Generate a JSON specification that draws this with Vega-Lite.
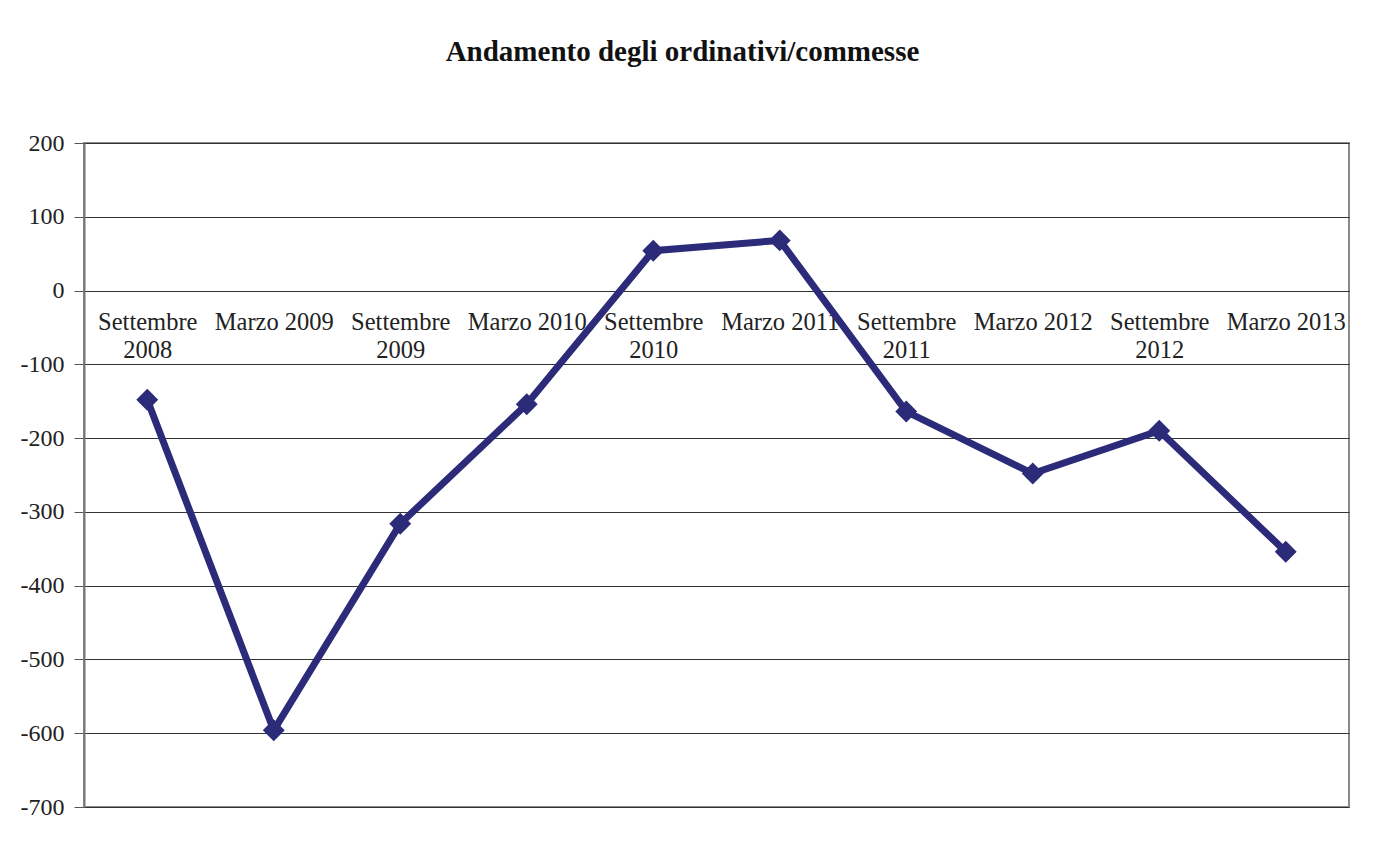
{
  "$schema": "https://vega.github.io/schema/vega-lite/v6.json",
  "autosize": "none",
  "width": 1265,
  "height": 664,
  "padding": {"left": 84, "top": 143, "right": 25, "bottom": 35},
  "background": "white",
  "title": {
    "text": "Andamento degli ordinativi/commesse",
    "font": "Liberation Serif",
    "fontSize": 29,
    "fontWeight": "bold",
    "color": "#111111",
    "anchor": "middle",
    "dx": -34,
    "offset": 64
  },
  "config": {
    "view": {"stroke": "#8a8a8a", "strokeWidth": 2},
    "font": "Liberation Serif"
  },
  "data": {
    "values": [
      {"periodo": "Settembre 2008", "valore": -148},
      {"periodo": "Marzo 2009", "valore": -596},
      {"periodo": "Settembre 2009", "valore": -316},
      {"periodo": "Marzo 2010", "valore": -154},
      {"periodo": "Settembre 2010", "valore": 54},
      {"periodo": "Marzo 2011", "valore": 68},
      {"periodo": "Settembre 2011", "valore": -164},
      {"periodo": "Marzo 2012", "valore": -248},
      {"periodo": "Settembre 2012", "valore": -190},
      {"periodo": "Marzo 2013", "valore": -354}
    ]
  },
  "encoding": {
    "x": {
      "field": "periodo",
      "type": "nominal",
      "sort": null,
      "scale": {"type": "point", "padding": 0.5},
      "axis": {
        "title": null,
        "orient": "bottom",
        "offset": -516,
        "labelAngle": 0,
        "labelFont": "Liberation Serif",
        "labelFontSize": 24.5,
        "labelColor": "#222222",
        "labelPadding": 19,
        "labelLineHeight": 28,
        "labelExpr": "indexof(datum.value, 'Settembre') == 0 ? split(datum.value, ' ') : datum.value",
        "domainColor": "#333333",
        "domainWidth": 1.2,
        "ticks": false,
        "labelOverlap": false,
        "labelBound": false
      }
    },
    "y": {
      "field": "valore",
      "type": "quantitative",
      "scale": {"domain": [-700, 200], "nice": false, "zero": false},
      "axis": {
        "title": null,
        "values": [-700, -600, -500, -400, -300, -200, -100, 0, 100, 200],
        "labelExpr": "toString(datum.value)",
        "labelFont": "Liberation Serif",
        "labelFontSize": 24,
        "labelColor": "#222222",
        "labelPadding": 10,
        "tickSize": 10,
        "tickColor": "#555555",
        "tickWidth": 1,
        "domainColor": "#777777",
        "domainWidth": 2,
        "grid": true,
        "gridColor": "#333333",
        "gridWidth": 1
      }
    }
  },
  "layer": [
    {
      "mark": {"type": "line", "color": "#2b2b7a", "strokeWidth": 7}
    },
    {
      "mark": {"type": "point", "shape": "diamond", "filled": true, "color": "#2b2b7a", "size": 480, "opacity": 1}
    }
  ]
}
